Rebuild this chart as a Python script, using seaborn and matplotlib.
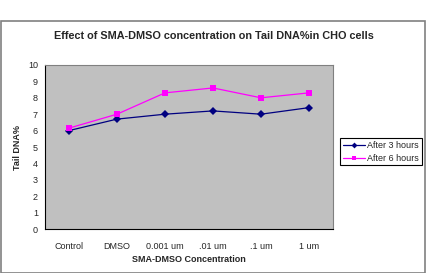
import matplotlib
matplotlib.use("Agg")
import matplotlib.pyplot as plt
import seaborn as sns
import numpy as np
import pandas as pd
from matplotlib.patches import Rectangle

categories = ["Control", "DMSO", "0.001 um", ".01 um", ".1 um", "1 um"]
after_3h = [6.0, 6.7, 7.0, 7.2, 7.0, 7.4]
after_6h = [6.15, 7.0, 8.3, 8.6, 8.0, 8.3]
series = ["After 3 hours", "After 6 hours"]

df = pd.DataFrame({
    "pos": list(range(len(categories))) * 2,
    "value": after_3h + after_6h,
    "series": [series[0]] * len(categories) + [series[1]] * len(categories),
})

sns.set_style("white")
plt.rcParams["font.family"] = ["Liberation Sans", "DejaVu Sans"]

fig = plt.figure(figsize=(4.28, 2.73), dpi=100)
ax = fig.add_axes([0.105, 0.161, 0.673, 0.601])
ax.set_facecolor("#C0C0C0")

sns.lineplot(data=df, x="pos", y="value", hue="series", style="series",
             palette=["#000080", "#FF00FF"], markers=["D", "s"], dashes=False,
             markersize=4, linewidth=0.9, markeredgewidth=0, ax=ax)

ax.set_xlim(-0.5, 5.5)
ax.set_ylim(0, 10)
ax.set_yticks(range(0, 11))
ax.set_xticks(np.arange(-0.5, 6, 1))
ax.set_xticklabels([])
ax.set_xticks(range(len(categories)), minor=True)
ax.set_xticklabels(categories, minor=True)
ax.tick_params(axis="x", which="minor", length=0, pad=9, labelsize=6.5)
ax.tick_params(axis="x", which="major", length=3, width=0.8, direction="out")
ax.tick_params(axis="y", length=3, width=0.8, direction="out", labelsize=6.5, pad=2)
for s in ["top", "right"]:
    ax.spines[s].set_color("#808080")
    ax.spines[s].set_linewidth(0.8)
for s in ["left", "bottom"]:
    ax.spines[s].set_color("black")
    ax.spines[s].set_linewidth(0.8)

ax.set_xlabel("SMA-DMSO Concentration", fontsize=6.5, fontweight="bold", labelpad=3)
ax.set_ylabel("Tail DNA%", fontsize=6.5, fontweight="bold", labelpad=4)

fig.suptitle("Effect of SMA-DMSO concentration on Tail DNA%in CHO cells",
             x=0.5, y=0.885, fontsize=7.8, fontweight="bold")

leg = ax.legend(loc="center left", bbox_to_anchor=(1.025, 0.47), fontsize=6.5,
                frameon=True, fancybox=False, edgecolor="black", framealpha=1,
                handlelength=2.5, handletextpad=0.2, borderpad=0.3, labelspacing=0.4,
                borderaxespad=0)
leg.get_frame().set_linewidth(0.8)
for h in leg.legend_handles:
    h.set_markersize(3)

fig.patches.append(Rectangle((1 / 428, 0), 424 / 428, 252 / 273, transform=fig.transFigure,
                             fill=False, edgecolor="#808080", linewidth=1.2))

fig.savefig("out.png", dpi=100)
